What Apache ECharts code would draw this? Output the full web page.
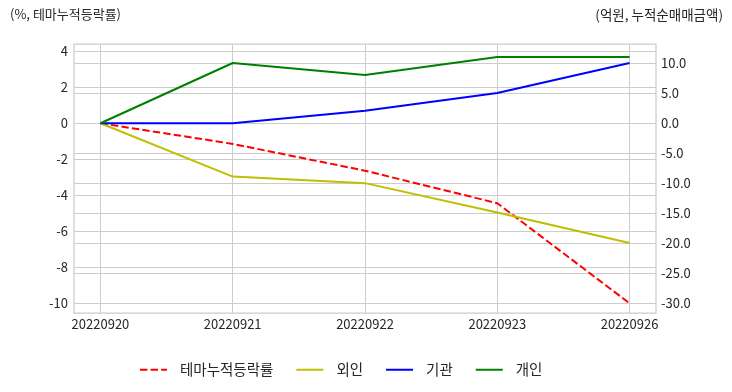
<!DOCTYPE html>
<html>
<head>
<meta charset="utf-8">
<script src="https://cdn.jsdelivr.net/npm/echarts@6/dist/echarts.min.js"></script>
<style>html,body{margin:0;padding:0;background:#fff;}#c{width:732px;height:392px;}</style>
</head>
<body>
<div id="c"></div>
<script>
const categories = ['20220920', '20220921', '20220922', '20220923', '20220926'];
const themeRate = [0, -1.15, -2.64, -4.45, -10.02];      // %, left axis
const foreign = [0, -8.9, -10.0, -14.9, -20.0];          // 억원, right axis
const institution = [0, 0, 2.1, 5.05, 10.05];
const individual = [0, 10.05, 8.05, 11.05, 11.05];
const leftTicks = [4, 2, 0, -2, -4, -6, -8, -10];
const rightTicks = [10, 5, 0, -5, -10, -15, -20, -25, -30];
const seriesNames = ['테마누적등락률', '외인', '기관', '개인'];

const FONT = '"Noto Sans CJK KR", "Noto Sans", sans-serif';
const TXT = '#262626';
const GRID = '#cccccc';
const idx = categories.map((_, i) => i);
const pairs = arr => arr.map((v, i) => [i, v]);

const chart = echarts.init(document.getElementById('c'), null, {renderer: 'canvas'});
chart.setOption({
  animation: false,
  textStyle: {fontFamily: FONT},
  title: [
    {text: '(%, 테마누적등락률)', left: 10, top: 8, padding: 0, textStyle: {fontSize: 13, fontWeight: 'normal', color: TXT, fontFamily: FONT}},
    {text: '(억원, 누적순매매금액)', right: 9, top: 8, padding: 0, textStyle: {fontSize: 13.5, fontWeight: 'normal', color: TXT, fontFamily: FONT}}
  ],
  grid: {left: 74, right: 76, top: 44, bottom: 79, show: true, borderColor: GRID, borderWidth: 1.25, backgroundColor: '#fff'},
  legend: {
    bottom: 10, left: 134,
    itemWidth: 27, itemHeight: 2, itemGap: 22,
    itemStyle: {color: 'rgba(0,0,0,0)', borderWidth: 0, opacity: 0},
    textStyle: {fontSize: 14.5, color: TXT, fontFamily: FONT, padding: [0, 0, 0, 8]},
    data: seriesNames
  },
  xAxis: {
    type: 'value', min: -0.2, max: 4.2,
    axisLine: {show: false}, axisTick: {show: false, customValues: idx},
    axisLabel: {customValues: idx, color: TXT, fontSize: 13, margin: 5, fontFamily: FONT,
      formatter: v => categories[Math.round(v)]},
    splitLine: {show: true, lineStyle: {color: GRID, width: 1}}
  },
  yAxis: [
    {
      type: 'value', min: -10.56, max: 4.41, position: 'left',
      axisLine: {show: false}, axisTick: {show: false, customValues: leftTicks},
      axisLabel: {customValues: leftTicks, color: TXT, fontSize: 13, margin: 6, fontFamily: FONT, formatter: v => String(Math.round(v))},
      splitLine: {show: true, lineStyle: {color: GRID, width: 1}}
    },
    {
      type: 'value', min: -31.67, max: 13.22, position: 'right',
      axisLine: {show: false}, axisTick: {show: false, customValues: rightTicks},
      axisLabel: {customValues: rightTicks, color: TXT, fontSize: 13, margin: 5, fontFamily: FONT, formatter: v => v.toFixed(1)},
      splitLine: {show: true, lineStyle: {color: GRID, width: 1}}
    }
  ],
  series: [
    {name: seriesNames[0], type: 'line', yAxisIndex: 0, data: pairs(themeRate), symbol: 'none', color: '#ff0000',
      lineStyle: {color: '#ff0000', width: 2, type: [7.4, 3.2]}},
    {name: seriesNames[1], type: 'line', yAxisIndex: 1, data: pairs(foreign), symbol: 'none', color: '#bfbf00',
      lineStyle: {color: '#bfbf00', width: 2}},
    {name: seriesNames[2], type: 'line', yAxisIndex: 1, data: pairs(institution), symbol: 'none', color: '#0000ff',
      lineStyle: {color: '#0000ff', width: 2}},
    {name: seriesNames[3], type: 'line', yAxisIndex: 1, data: pairs(individual), symbol: 'none', color: '#008000',
      lineStyle: {color: '#008000', width: 2}}
  ]
});
</script>
</body>
</html>
